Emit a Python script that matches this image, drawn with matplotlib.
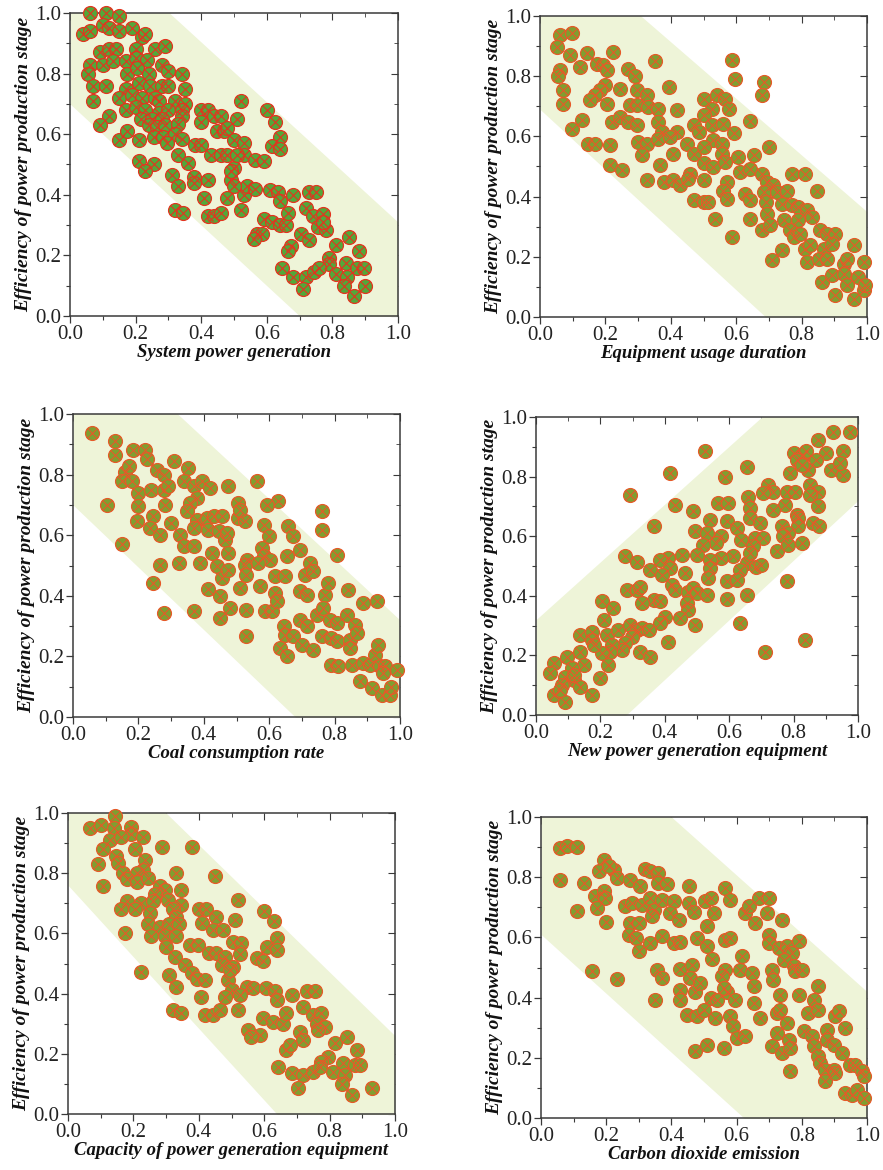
import numpy as np
import matplotlib
matplotlib.use("Agg")
import matplotlib.pyplot as plt
from matplotlib.ticker import MultipleLocator

plt.rcParams['font.family'] = ['Liberation Serif', 'DejaVu Serif']

y_label = "Efficiency of power production stage"
x_labels = [
    "System power generation",
    "Equipment usage duration",
    "Coal consumption rate",
    "New power generation equipment",
    "Capacity of power generation equipment",
    "Carbon dioxide emission",
]

# scatter values (x, y)
p1_points = np.array([
    (0.06, 1.0), (0.11, 1.0), (0.15, 0.99), (0.04, 0.93), (0.06, 0.94), (0.10, 0.96), (0.12, 0.95),
    (0.15, 0.94), (0.19, 0.95), (0.22, 0.92), (0.23, 0.93), (0.26, 0.88), (0.29, 0.89), (0.09, 0.87),
    (0.12, 0.88), (0.14, 0.88), (0.20, 0.88), (0.06, 0.83), (0.10, 0.83), (0.13, 0.84), (0.17, 0.84),
    (0.20, 0.85), (0.235, 0.845), (0.055, 0.80), (0.175, 0.80), (0.205, 0.82), (0.24, 0.80), (0.28, 0.83),
    (0.30, 0.81), (0.34, 0.80), (0.07, 0.76), (0.11, 0.76), (0.17, 0.75), (0.21, 0.77), (0.245, 0.76),
    (0.28, 0.76), (0.30, 0.76), (0.35, 0.75), (0.07, 0.71), (0.15, 0.72), (0.19, 0.73), (0.22, 0.72),
    (0.26, 0.72), (0.27, 0.71), (0.32, 0.71), (0.35, 0.70), (0.17, 0.68), (0.20, 0.69), (0.23, 0.68),
    (0.27, 0.67), (0.30, 0.68), (0.34, 0.68), (0.40, 0.68), (0.42, 0.68), (0.12, 0.66), (0.215, 0.65),
    (0.25, 0.65), (0.28, 0.65), (0.34, 0.66), (0.44, 0.66), (0.09, 0.63), (0.24, 0.63), (0.265, 0.625),
    (0.29, 0.63), (0.33, 0.635), (0.40, 0.64), (0.255, 0.59), (0.285, 0.59), (0.32, 0.60), (0.15, 0.58),
    (0.175, 0.61), (0.21, 0.58), (0.295, 0.57), (0.34, 0.585), (0.38, 0.565), (0.40, 0.565), (0.33, 0.53),
    (0.43, 0.53), (0.21, 0.51), (0.255, 0.50), (0.23, 0.48), (0.36, 0.505), (0.31, 0.465), (0.378, 0.46),
    (0.42, 0.45), (0.378, 0.44), (0.33, 0.43), (0.41, 0.39), (0.32, 0.35), (0.345, 0.34), (0.42, 0.33),
    (0.44, 0.33), (0.52, 0.71), (0.60, 0.68), (0.625, 0.64), (0.64, 0.59), (0.615, 0.56), (0.64, 0.55),
    (0.51, 0.65), (0.447, 0.61), (0.47, 0.61), (0.50, 0.58), (0.53, 0.57), (0.46, 0.53), (0.53, 0.53),
    (0.565, 0.515), (0.59, 0.51), (0.50, 0.49), (0.49, 0.45), (0.48, 0.39), (0.53, 0.40), (0.54, 0.43),
    (0.565, 0.42), (0.61, 0.415), (0.635, 0.41), (0.64, 0.38), (0.68, 0.40), (0.73, 0.41), (0.75, 0.41),
    (0.72, 0.355), (0.74, 0.33), (0.77, 0.335), (0.755, 0.295), (0.78, 0.285), (0.77, 0.31), (0.59, 0.32),
    (0.615, 0.31), (0.64, 0.30), (0.66, 0.30), (0.665, 0.34), (0.57, 0.27), (0.585, 0.27), (0.705, 0.27),
    (0.73, 0.25), (0.675, 0.23), (0.665, 0.215), (0.81, 0.235), (0.85, 0.26), (0.88, 0.215), (0.79, 0.19),
    (0.79, 0.17), (0.84, 0.175), (0.875, 0.16), (0.895, 0.16), (0.81, 0.14), (0.845, 0.13), (0.835, 0.10),
    (0.90, 0.10), (0.865, 0.065), (0.645, 0.16), (0.68, 0.13), (0.72, 0.13), (0.745, 0.145), (0.71, 0.09),
    (0.76, 0.16), (0.46, 0.66), (0.48, 0.62), (0.48, 0.53), (0.51, 0.53), (0.49, 0.48), (0.50, 0.43),
    (0.52, 0.35), (0.46, 0.34), (0.56, 0.255),
])

p2_points = np.array([
    (0.061, 0.936), (0.097, 0.944), (0.053, 0.897), (0.092, 0.87), (0.143, 0.877), (0.224, 0.88),
    (0.352, 0.85), (0.587, 0.853), (0.122, 0.83), (0.173, 0.842), (0.194, 0.836), (0.204, 0.82),
    (0.27, 0.825), (0.29, 0.80), (0.061, 0.82), (0.056, 0.80), (0.597, 0.79), (0.684, 0.78),
    (0.68, 0.736), (0.393, 0.764), (0.245, 0.758), (0.199, 0.77), (0.071, 0.753), (0.184, 0.753),
    (0.168, 0.736), (0.296, 0.753), (0.327, 0.736), (0.071, 0.709), (0.153, 0.72), (0.204, 0.709),
    (0.276, 0.703), (0.296, 0.703), (0.33, 0.698), (0.362, 0.692), (0.42, 0.687), (0.50, 0.725),
    (0.54, 0.736), (0.566, 0.725), (0.526, 0.692), (0.577, 0.692), (0.128, 0.653), (0.097, 0.626),
    (0.22, 0.648), (0.245, 0.665), (0.27, 0.648), (0.296, 0.637), (0.362, 0.648), (0.47, 0.637),
    (0.50, 0.67), (0.526, 0.637), (0.56, 0.642), (0.643, 0.651), (0.372, 0.615), (0.418, 0.615),
    (0.485, 0.615), (0.592, 0.61), (0.148, 0.576), (0.168, 0.576), (0.214, 0.57), (0.30, 0.58),
    (0.327, 0.576), (0.362, 0.592), (0.398, 0.598), (0.449, 0.576), (0.53, 0.587), (0.556, 0.576),
    (0.311, 0.537), (0.408, 0.542), (0.47, 0.542), (0.50, 0.565), (0.556, 0.542), (0.70, 0.565),
    (0.607, 0.53), (0.653, 0.537), (0.214, 0.504), (0.25, 0.487), (0.367, 0.504), (0.50, 0.51),
    (0.53, 0.498), (0.566, 0.515), (0.612, 0.482), (0.643, 0.493), (0.68, 0.476), (0.459, 0.476),
    (0.77, 0.476), (0.81, 0.476), (0.327, 0.454), (0.378, 0.448), (0.408, 0.454), (0.429, 0.437),
    (0.50, 0.454), (0.454, 0.46), (0.571, 0.448), (0.694, 0.448), (0.714, 0.437), (0.847, 0.42),
    (0.56, 0.42), (0.571, 0.393), (0.627, 0.41), (0.643, 0.388), (0.684, 0.415), (0.724, 0.415),
    (0.755, 0.42), (0.47, 0.388), (0.50, 0.382), (0.515, 0.382), (0.69, 0.382), (0.74, 0.377),
    (0.77, 0.371), (0.79, 0.365), (0.816, 0.354), (0.832, 0.332), (0.536, 0.327), (0.643, 0.327),
    (0.694, 0.343), (0.745, 0.321), (0.79, 0.321), (0.68, 0.288), (0.704, 0.305), (0.765, 0.288),
    (0.776, 0.266), (0.796, 0.277), (0.857, 0.288), (0.878, 0.277), (0.903, 0.277), (0.587, 0.266),
    (0.81, 0.227), (0.827, 0.238), (0.867, 0.227), (0.893, 0.244), (0.96, 0.238), (0.74, 0.221),
    (0.71, 0.188), (0.816, 0.183), (0.852, 0.194), (0.878, 0.194), (0.929, 0.177), (0.94, 0.194),
    (0.99, 0.183), (0.862, 0.116), (0.893, 0.138), (0.929, 0.144), (0.974, 0.133), (0.903, 0.072),
    (0.94, 0.105), (0.96, 0.061), (0.99, 0.089), (0.995, 0.105),
])

p3_points = np.array([
    (0.058, 0.937), (0.129, 0.91), (0.129, 0.866), (0.104, 0.70), (0.15, 0.572), (0.185, 0.882),
    (0.22, 0.882), (0.226, 0.85), (0.16, 0.81), (0.17, 0.827), (0.15, 0.778), (0.18, 0.778),
    (0.20, 0.74), (0.20, 0.695), (0.196, 0.646), (0.257, 0.816), (0.277, 0.80), (0.24, 0.75),
    (0.277, 0.75), (0.29, 0.761), (0.28, 0.70), (0.246, 0.662), (0.236, 0.624), (0.267, 0.602),
    (0.30, 0.64), (0.31, 0.844), (0.353, 0.822), (0.338, 0.778), (0.37, 0.761), (0.394, 0.778),
    (0.42, 0.756), (0.475, 0.761), (0.562, 0.778), (0.628, 0.712), (0.379, 0.723), (0.358, 0.706),
    (0.348, 0.679), (0.379, 0.651), (0.37, 0.624), (0.409, 0.657), (0.43, 0.662), (0.455, 0.662),
    (0.414, 0.618), (0.445, 0.613), (0.328, 0.602), (0.338, 0.563), (0.369, 0.565), (0.506, 0.706),
    (0.506, 0.657), (0.527, 0.646), (0.51, 0.684), (0.593, 0.70), (0.465, 0.585), (0.47, 0.607),
    (0.425, 0.541), (0.475, 0.541), (0.532, 0.519), (0.527, 0.503), (0.583, 0.635), (0.60, 0.596),
    (0.577, 0.558), (0.583, 0.53), (0.603, 0.519), (0.567, 0.508), (0.267, 0.503), (0.323, 0.508),
    (0.389, 0.508), (0.246, 0.442), (0.277, 0.343), (0.369, 0.349), (0.414, 0.422), (0.44, 0.497),
    (0.455, 0.459), (0.45, 0.398), (0.45, 0.327), (0.475, 0.486), (0.48, 0.36), (0.51, 0.426),
    (0.53, 0.47), (0.53, 0.354), (0.53, 0.266), (0.572, 0.431), (0.588, 0.349), (0.608, 0.349),
    (0.618, 0.464), (0.618, 0.409), (0.623, 0.382), (0.649, 0.464), (0.654, 0.53), (0.659, 0.629),
    (0.674, 0.596), (0.695, 0.552), (0.71, 0.47), (0.725, 0.508), (0.735, 0.481), (0.76, 0.679),
    (0.76, 0.618), (0.77, 0.404), (0.78, 0.442), (0.807, 0.536), (0.695, 0.415), (0.715, 0.404),
    (0.644, 0.30), (0.649, 0.272), (0.674, 0.266), (0.695, 0.321), (0.715, 0.30), (0.70, 0.239),
    (0.735, 0.222), (0.633, 0.228), (0.654, 0.20), (0.746, 0.338), (0.765, 0.36), (0.786, 0.321),
    (0.76, 0.266), (0.79, 0.261), (0.807, 0.31), (0.807, 0.25), (0.837, 0.338), (0.842, 0.42),
    (0.847, 0.255), (0.847, 0.228), (0.862, 0.305), (0.867, 0.277), (0.888, 0.376), (0.929, 0.382),
    (0.79, 0.173), (0.81, 0.167), (0.852, 0.173), (0.888, 0.178), (0.908, 0.173), (0.923, 0.206),
    (0.933, 0.239), (0.939, 0.167), (0.954, 0.167), (0.949, 0.145), (0.99, 0.156), (0.878, 0.118),
    (0.913, 0.096), (0.944, 0.074), (0.969, 0.074), (0.974, 0.10),
])

p4_points = np.array([
    (0.922, 0.948), (0.974, 0.948), (0.876, 0.924), (0.525, 0.885), (0.416, 0.812), (0.654, 0.832),
    (0.587, 0.798), (0.292, 0.739), (0.432, 0.705), (0.80, 0.879), (0.83, 0.873), (0.84, 0.885),
    (0.90, 0.879), (0.953, 0.885), (0.87, 0.857), (0.81, 0.857), (0.917, 0.823), (0.953, 0.806),
    (0.79, 0.812), (0.845, 0.823), (0.943, 0.846), (0.826, 0.84), (0.721, 0.773), (0.736, 0.75),
    (0.778, 0.75), (0.804, 0.75), (0.85, 0.773), (0.876, 0.75), (0.85, 0.739), (0.876, 0.70),
    (0.773, 0.705), (0.705, 0.745), (0.659, 0.733), (0.664, 0.694), (0.566, 0.711), (0.597, 0.711),
    (0.489, 0.683), (0.736, 0.689), (0.81, 0.672), (0.815, 0.66), (0.664, 0.66), (0.695, 0.644),
    (0.86, 0.644), (0.88, 0.633), (0.815, 0.633), (0.763, 0.633), (0.783, 0.61), (0.768, 0.599),
    (0.54, 0.655), (0.592, 0.65), (0.623, 0.627), (0.365, 0.633), (0.494, 0.616), (0.576, 0.599),
    (0.53, 0.61), (0.638, 0.588), (0.68, 0.594), (0.705, 0.594), (0.674, 0.566), (0.747, 0.549),
    (0.783, 0.571), (0.826, 0.577), (0.56, 0.577), (0.52, 0.571), (0.50, 0.538), (0.613, 0.532),
    (0.576, 0.526), (0.54, 0.52), (0.654, 0.51), (0.633, 0.487), (0.684, 0.498), (0.70, 0.504),
    (0.664, 0.543), (0.277, 0.532), (0.313, 0.515), (0.411, 0.526), (0.385, 0.52), (0.452, 0.538),
    (0.416, 0.493), (0.354, 0.487), (0.392, 0.47), (0.463, 0.476), (0.54, 0.493), (0.535, 0.46),
    (0.592, 0.448), (0.623, 0.454), (0.778, 0.45), (0.282, 0.42), (0.313, 0.42), (0.323, 0.431),
    (0.365, 0.386), (0.385, 0.381), (0.328, 0.375), (0.421, 0.437), (0.432, 0.42), (0.473, 0.414),
    (0.489, 0.426), (0.468, 0.375), (0.499, 0.409), (0.473, 0.353), (0.53, 0.403), (0.592, 0.389),
    (0.654, 0.403), (0.205, 0.381), (0.24, 0.358), (0.401, 0.33), (0.447, 0.325), (0.385, 0.308),
    (0.494, 0.302), (0.633, 0.308), (0.21, 0.319), (0.137, 0.269), (0.174, 0.28), (0.22, 0.269),
    (0.256, 0.286), (0.292, 0.302), (0.313, 0.286), (0.328, 0.291), (0.35, 0.286), (0.297, 0.263),
    (0.277, 0.241), (0.266, 0.218), (0.235, 0.235), (0.23, 0.213), (0.205, 0.207), (0.225, 0.168),
    (0.323, 0.213), (0.354, 0.196), (0.411, 0.246), (0.174, 0.252), (0.18, 0.235), (0.137, 0.213),
    (0.15, 0.168), (0.20, 0.123), (0.055, 0.174), (0.045, 0.14), (0.096, 0.196), (0.112, 0.157),
    (0.09, 0.129), (0.117, 0.118), (0.08, 0.10), (0.137, 0.095), (0.055, 0.067), (0.09, 0.045),
    (0.174, 0.067), (0.117, 0.134), (0.075, 0.084), (0.71, 0.213), (0.835, 0.252),
])

p5_points = np.array([
    (0.066, 0.95), (0.10, 0.96), (0.143, 0.99), (0.14, 0.95), (0.194, 0.955), (0.194, 0.93),
    (0.23, 0.92), (0.128, 0.91), (0.163, 0.92), (0.107, 0.88), (0.204, 0.88), (0.286, 0.887),
    (0.378, 0.887), (0.148, 0.856), (0.235, 0.845), (0.092, 0.83), (0.153, 0.834), (0.23, 0.81),
    (0.21, 0.80), (0.168, 0.80), (0.33, 0.80), (0.45, 0.79), (0.18, 0.78), (0.21, 0.77),
    (0.245, 0.785), (0.107, 0.756), (0.28, 0.756), (0.296, 0.745), (0.347, 0.745), (0.265, 0.73),
    (0.306, 0.71), (0.52, 0.71), (0.18, 0.706), (0.224, 0.70), (0.26, 0.706), (0.347, 0.695),
    (0.163, 0.68), (0.204, 0.68), (0.25, 0.667), (0.32, 0.68), (0.40, 0.68), (0.423, 0.68),
    (0.60, 0.676), (0.33, 0.656), (0.41, 0.634), (0.454, 0.656), (0.51, 0.645), (0.63, 0.64),
    (0.245, 0.63), (0.28, 0.62), (0.31, 0.63), (0.34, 0.63), (0.444, 0.612), (0.474, 0.612),
    (0.173, 0.60), (0.255, 0.59), (0.296, 0.59), (0.33, 0.59), (0.30, 0.556), (0.372, 0.562),
    (0.398, 0.562), (0.505, 0.573), (0.53, 0.567), (0.61, 0.556), (0.638, 0.584), (0.638, 0.545),
    (0.327, 0.523), (0.43, 0.534), (0.454, 0.534), (0.48, 0.523), (0.525, 0.53), (0.577, 0.518),
    (0.597, 0.507), (0.357, 0.495), (0.47, 0.495), (0.505, 0.49), (0.224, 0.473), (0.31, 0.462),
    (0.378, 0.468), (0.393, 0.45), (0.418, 0.446), (0.49, 0.446), (0.495, 0.479), (0.33, 0.423),
    (0.50, 0.412), (0.546, 0.423), (0.566, 0.418), (0.408, 0.39), (0.48, 0.39), (0.525, 0.396),
    (0.607, 0.418), (0.633, 0.407), (0.638, 0.379), (0.684, 0.396), (0.73, 0.407), (0.755, 0.407),
    (0.32, 0.346), (0.347, 0.335), (0.418, 0.329), (0.444, 0.329), (0.464, 0.346), (0.52, 0.346),
    (0.597, 0.318), (0.628, 0.307), (0.658, 0.30), (0.668, 0.337), (0.72, 0.357), (0.75, 0.329),
    (0.775, 0.337), (0.76, 0.30), (0.786, 0.29), (0.765, 0.28), (0.55, 0.28), (0.587, 0.263),
    (0.56, 0.257), (0.71, 0.274), (0.72, 0.246), (0.668, 0.213), (0.68, 0.23), (0.816, 0.235),
    (0.852, 0.257), (0.883, 0.213), (0.796, 0.19), (0.775, 0.174), (0.643, 0.157), (0.684, 0.135),
    (0.72, 0.13), (0.75, 0.14), (0.77, 0.157), (0.81, 0.14), (0.84, 0.168), (0.878, 0.163),
    (0.893, 0.163), (0.847, 0.13), (0.837, 0.10), (0.704, 0.085), (0.867, 0.063), (0.93, 0.085),
])

p6_points = np.array([
    (0.059, 0.897), (0.08, 0.903), (0.11, 0.899), (0.057, 0.79), (0.131, 0.78), (0.192, 0.856),
    (0.177, 0.82), (0.223, 0.825), (0.233, 0.797), (0.208, 0.836), (0.166, 0.736), (0.192, 0.753),
    (0.197, 0.731), (0.172, 0.698), (0.11, 0.687), (0.20, 0.65), (0.274, 0.792), (0.305, 0.77),
    (0.32, 0.827), (0.335, 0.822), (0.36, 0.814), (0.36, 0.78), (0.386, 0.779), (0.259, 0.703),
    (0.28, 0.714), (0.311, 0.709), (0.335, 0.731), (0.346, 0.692), (0.34, 0.67), (0.37, 0.725),
    (0.407, 0.72), (0.397, 0.681), (0.422, 0.659), (0.453, 0.77), (0.453, 0.714), (0.468, 0.683),
    (0.504, 0.72), (0.52, 0.731), (0.53, 0.681), (0.565, 0.764), (0.58, 0.725), (0.274, 0.648),
    (0.30, 0.648), (0.27, 0.609), (0.29, 0.598), (0.30, 0.554), (0.335, 0.581), (0.37, 0.604),
    (0.407, 0.581), (0.427, 0.584), (0.479, 0.598), (0.509, 0.637), (0.509, 0.57), (0.525, 0.528),
    (0.565, 0.592), (0.58, 0.598), (0.627, 0.681), (0.637, 0.703), (0.668, 0.731), (0.698, 0.731),
    (0.657, 0.648), (0.693, 0.681), (0.74, 0.659), (0.698, 0.609), (0.698, 0.581), (0.73, 0.565),
    (0.755, 0.57), (0.77, 0.548), (0.744, 0.526), (0.79, 0.587), (0.616, 0.537), (0.356, 0.493),
    (0.37, 0.465), (0.35, 0.391), (0.427, 0.495), (0.463, 0.509), (0.458, 0.465), (0.427, 0.426),
    (0.427, 0.393), (0.473, 0.42), (0.489, 0.449), (0.448, 0.343), (0.479, 0.338), (0.499, 0.36),
    (0.52, 0.399), (0.54, 0.393), (0.535, 0.332), (0.473, 0.221), (0.509, 0.244), (0.56, 0.233),
    (0.565, 0.493), (0.555, 0.471), (0.57, 0.42), (0.595, 0.393), (0.58, 0.338), (0.59, 0.305),
    (0.601, 0.266), (0.627, 0.271), (0.611, 0.493), (0.647, 0.482), (0.652, 0.437), (0.652, 0.382),
    (0.673, 0.332), (0.56, 0.432), (0.708, 0.493), (0.713, 0.46), (0.734, 0.41), (0.724, 0.349),
    (0.734, 0.36), (0.755, 0.316), (0.724, 0.282), (0.708, 0.238), (0.74, 0.216), (0.76, 0.26),
    (0.765, 0.233), (0.765, 0.155), (0.776, 0.504), (0.78, 0.487), (0.801, 0.493), (0.79, 0.41),
    (0.82, 0.349), (0.851, 0.437), (0.836, 0.393), (0.851, 0.36), (0.806, 0.288), (0.831, 0.271),
    (0.836, 0.238), (0.851, 0.205), (0.857, 0.183), (0.872, 0.16), (0.877, 0.293), (0.877, 0.26),
    (0.898, 0.244), (0.872, 0.122), (0.903, 0.338), (0.913, 0.354), (0.934, 0.299), (0.924, 0.216),
    (0.898, 0.16), (0.949, 0.177), (0.964, 0.177), (0.985, 0.155), (0.99, 0.138), (0.934, 0.083),
    (0.954, 0.078), (0.969, 0.094), (0.99, 0.066), (0.903, 0.149), (0.156, 0.487), (0.233, 0.462),
])

all_points = [p1_points, p2_points, p3_points, p4_points, p5_points, p6_points]

# shaded band: lower / upper boundary as y at x=0 and x=1
band_lower = [(0.70, -0.30), (0.69, -0.31), (0.70, -0.33), (-0.28, 0.72), (0.76, -0.43), (0.61, -0.37)]
band_upper = [(1.30, 0.31), (1.29, 0.35), (1.32, 0.32), (0.32, 1.29), (1.317, 0.26), (1.387, 0.42)]

# axes boxes in pixels (left, right, top, bottom)
W, H = 883, 1170
boxes = [
    (70, 398, 13, 316),
    (540, 867, 16, 317),
    (73, 400, 414, 717),
    (536, 858, 417, 715),
    (68, 395, 813, 1114),
    (541, 867, 817, 1118),
]

green_1, red_1 = '#52a83a', '#e3341f'
green_n, red_n = '#7f9f30', '#e65a28'

fig = plt.figure(figsize=(W / 100, H / 100), dpi=100)

for i, (pts, box) in enumerate(zip(all_points, boxes)):
    l, r, t, b = box
    ax = fig.add_axes([l / W, 1 - b / H, (r - l) / W, (b - t) / H])

    xx = np.array([0.0, 1.0])
    lo = np.array(band_lower[i])
    hi = np.array(band_upper[i])
    ax.fill_between(xx, lo, hi, color='#eef4d8', lw=0, zorder=1)

    g, rc = (green_1, red_1) if i == 0 else (green_n, red_n)
    ax.scatter(pts[:, 0], pts[:, 1], s=100, marker='o', facecolor=g, edgecolor=rc,
               linewidth=0.9, zorder=3, clip_on=False)
    ax.scatter(pts[:, 0], pts[:, 1], s=55, marker='x', color=rc, linewidth=0.8,
               zorder=4, clip_on=False)

    ax.set_xlim(0, 1)
    ax.set_ylim(0, 1)
    ax.xaxis.set_major_locator(MultipleLocator(0.2))
    ax.xaxis.set_minor_locator(MultipleLocator(0.1))
    ax.yaxis.set_major_locator(MultipleLocator(0.2))
    ax.yaxis.set_minor_locator(MultipleLocator(0.1))
    ax.xaxis.set_major_formatter(lambda v, p: f"{v:.1f}")
    ax.yaxis.set_major_formatter(lambda v, p: f"{v:.1f}")

    for sp in ax.spines.values():
        sp.set_color('#3a3a3a')
        sp.set_linewidth(1.1)
    ax.tick_params(which='major', direction='out', length=5, width=0.9, color='#3a3a3a',
                   labelsize=15, labelcolor='#222222', pad=1.5)
    ax.tick_params(which='minor', direction='out', length=3, width=0.8, color='#3a3a3a')

    # mirrored inward ticks on top and right
    top = ax.secondary_xaxis('top')
    top.xaxis.set_major_locator(MultipleLocator(0.2))
    top.xaxis.set_minor_locator(MultipleLocator(0.1))
    top.tick_params(which='both', direction='in', labeltop=False, color='#3a3a3a')
    top.tick_params(which='major', length=5)
    top.tick_params(which='minor', length=3)
    top.spines['top'].set_visible(False)
    right = ax.secondary_yaxis('right')
    right.yaxis.set_major_locator(MultipleLocator(0.2))
    right.yaxis.set_minor_locator(MultipleLocator(0.1))
    right.tick_params(which='both', direction='in', labelright=False, color='#3a3a3a')
    right.tick_params(which='major', length=5)
    right.tick_params(which='minor', length=3)
    right.spines['right'].set_visible(False)

    ax.set_xlabel(x_labels[i], fontsize=13.5, fontweight='bold', fontstyle='italic',
                  color='#111111', labelpad=0)
    ax.set_ylabel(y_label, fontsize=14, fontweight='bold', fontstyle='italic',
                  color='#111111', labelpad=2)

fig.savefig('out.png', dpi=100)
